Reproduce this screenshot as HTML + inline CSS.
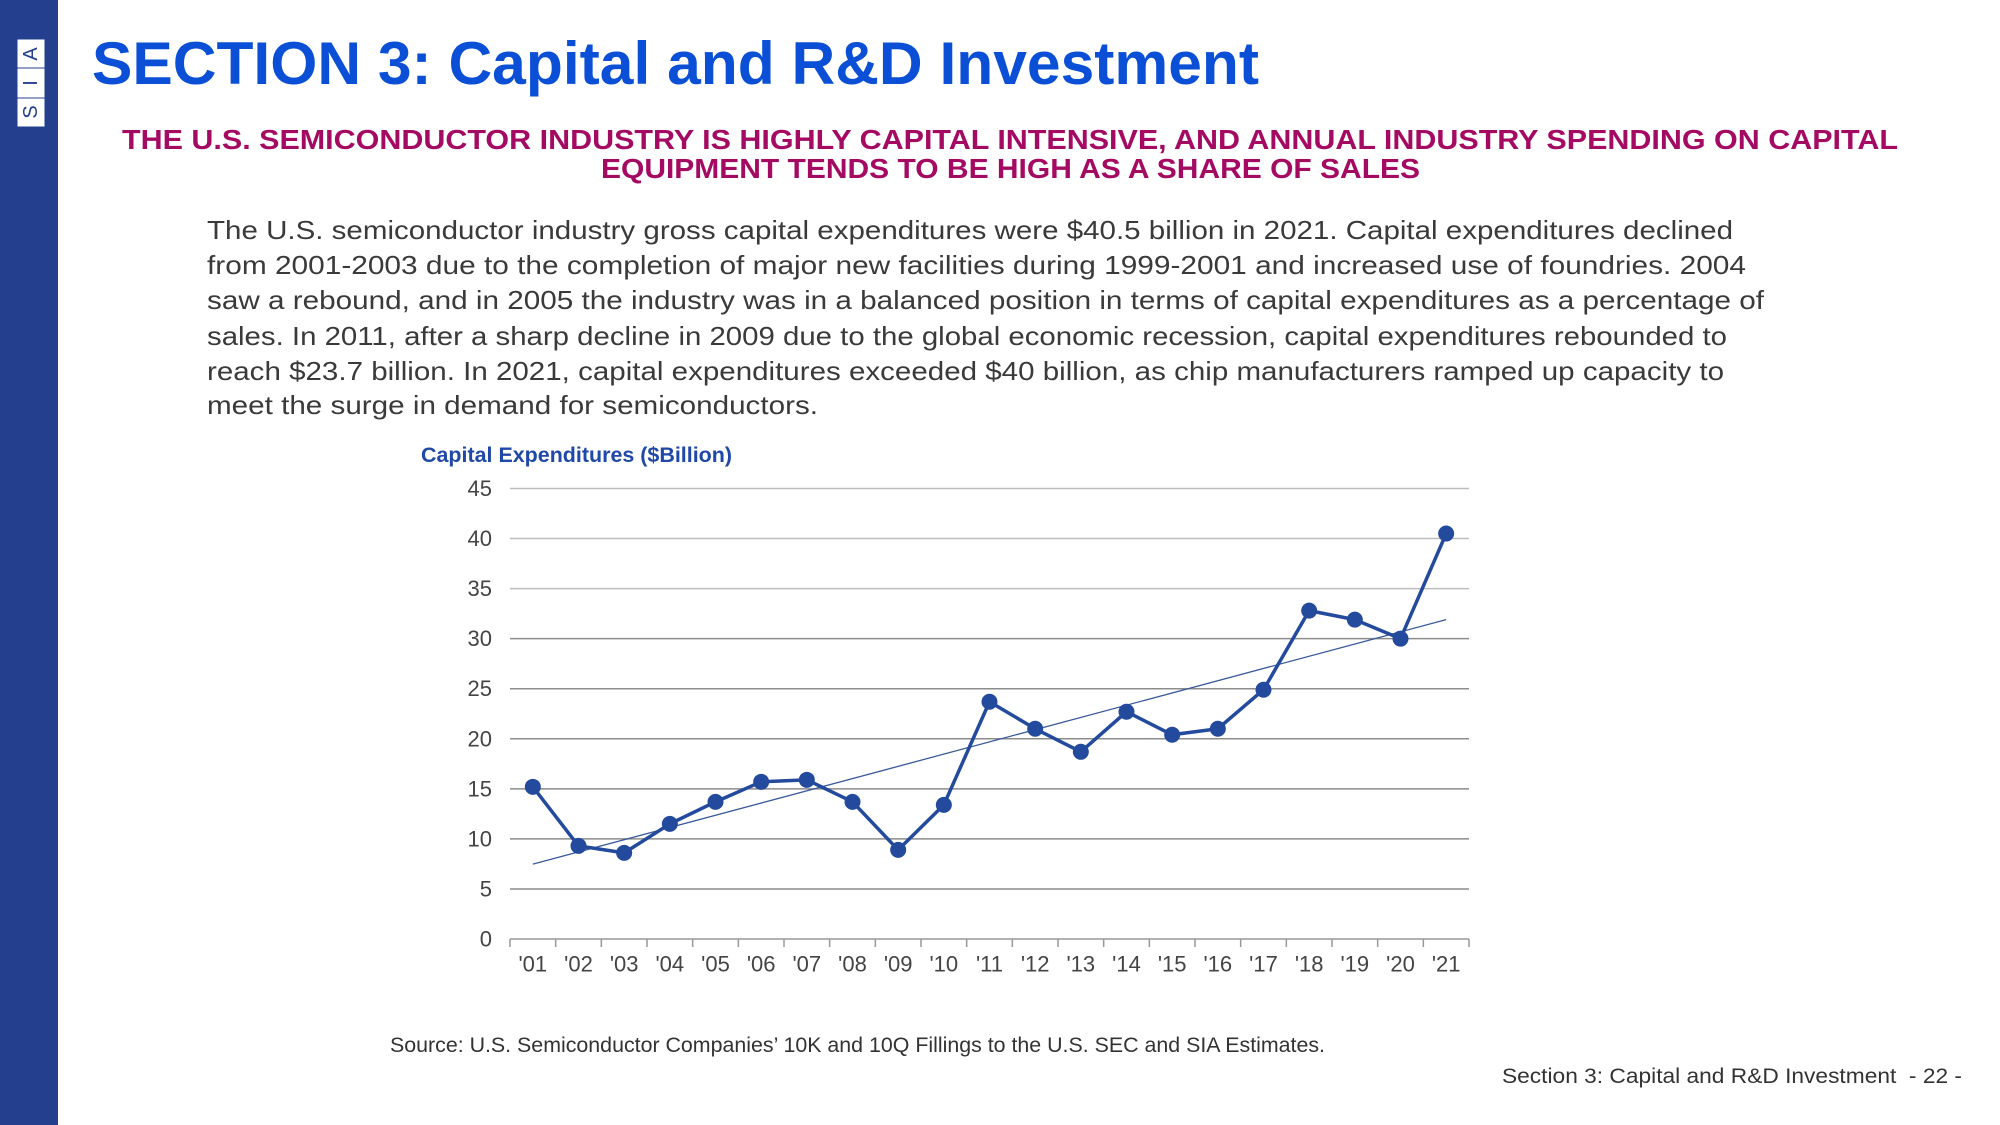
<!DOCTYPE html>
<html><head><meta charset="utf-8"><style>
html,body{margin:0;padding:0;background:#fff;width:2000px;height:1125px;overflow:hidden}
svg{display:block}
text{font-family:"Liberation Sans",sans-serif}
</style></head><body>
<svg id="page" width="2000" height="1125" viewBox="0 0 2000 1125">
  <rect x="0" y="0" width="58" height="1125" fill="#253f8f"/>
  <g>
    <rect x="17" y="39" width="28" height="88" fill="#fff" stroke="#253f8f" stroke-width="1"/>
    <line x1="17" y1="68" x2="45" y2="68" stroke="#253f8f" stroke-width="1"/>
    <line x1="17" y1="98" x2="45" y2="98" stroke="#253f8f" stroke-width="1"/>
    <text transform="translate(31,54) rotate(-90)" text-anchor="middle" dominant-baseline="central" font-size="20" fill="#253f8f">A</text>
    <text transform="translate(31,83) rotate(-90)" text-anchor="middle" dominant-baseline="central" font-size="20" fill="#253f8f">I</text>
    <text transform="translate(31,112) rotate(-90)" text-anchor="middle" dominant-baseline="central" font-size="20" fill="#253f8f">S</text>
  </g>
  <text x="92" y="84" font-size="60" font-weight="bold" fill="#0a4fd6" textLength="1167" lengthAdjust="spacingAndGlyphs">SECTION 3: Capital and R&amp;D Investment</text>
  <g fill="#a50a62" font-size="28" font-weight="bold">
    <text x="122" y="149" textLength="1776" lengthAdjust="spacingAndGlyphs">THE U.S. SEMICONDUCTOR INDUSTRY IS HIGHLY CAPITAL INTENSIVE, AND ANNUAL INDUSTRY SPENDING ON CAPITAL</text>
    <text x="601" y="178" textLength="819" lengthAdjust="spacingAndGlyphs">EQUIPMENT TENDS TO BE HIGH AS A SHARE OF SALES</text>
  </g>
  <g fill="#3a3a3a" font-size="26">
    <text x="207" y="239" textLength="1526" lengthAdjust="spacingAndGlyphs">The U.S. semiconductor industry gross capital expenditures were $40.5 billion in 2021. Capital expenditures declined</text>
    <text x="207" y="274" textLength="1539" lengthAdjust="spacingAndGlyphs">from 2001-2003 due to the completion of major new facilities during 1999-2001 and increased use of foundries. 2004</text>
    <text x="207" y="309" textLength="1557" lengthAdjust="spacingAndGlyphs">saw a rebound, and in 2005 the industry was in a balanced position in terms of capital expenditures as a percentage of</text>
    <text x="207" y="345" textLength="1520" lengthAdjust="spacingAndGlyphs">sales. In 2011, after a sharp decline in 2009 due to the global economic recession, capital expenditures rebounded to</text>
    <text x="207" y="380" textLength="1517" lengthAdjust="spacingAndGlyphs">reach $23.7 billion. In 2021, capital expenditures exceeded $40 billion, as chip manufacturers ramped up capacity to</text>
    <text x="207" y="414" textLength="611" lengthAdjust="spacingAndGlyphs">meet the surge in demand for semiconductors.</text>
  </g>
  <text x="421" y="462" font-size="21" font-weight="bold" fill="#1f48a8" textLength="311" lengthAdjust="spacingAndGlyphs">Capital Expenditures ($Billion)</text>
  <g id="chart"></g>
  <text x="390" y="1052" font-size="21" fill="#333" textLength="935" lengthAdjust="spacingAndGlyphs">Source: U.S. Semiconductor Companies’ 10K and 10Q Fillings to the U.S. SEC and SIA Estimates.</text>
  <text x="1502" y="1083" font-size="21" fill="#333" xml:space="preserve" textLength="460" lengthAdjust="spacingAndGlyphs">Section 3: Capital and R&amp;D Investment  - 22 -</text>
</svg>
<script>
const categories = ["'01","'02","'03","'04","'05","'06","'07","'08","'09","'10","'11","'12","'13","'14","'15","'16","'17","'18","'19","'20","'21"];
const capex = [15.2,9.3,8.6,11.5,13.7,15.7,15.9,13.7,8.9,13.4,23.7,21.0,18.7,22.7,20.4,21.0,24.9,32.8,31.9,30.0,40.5];
const yTicks = [0,5,10,15,20,25,30,35,40,45];

const NS = "http://www.w3.org/2000/svg";
const g = document.getElementById('chart');
const L = 510, R = 1469, T = 488.5, B = 939, yMax = 45;
const band = (R - L) / categories.length;
function x(i){ return L + band * (i + 0.5); }
function y(v){ return B - (v / yMax) * (B - T); }
function mk(tag, attrs){ const e = document.createElementNS(NS, tag); for (const k in attrs) e.setAttribute(k, attrs[k]); g.appendChild(e); return e; }

yTicks.forEach(t => {
  if (t > 0) {
    const ln = mk('line', {x1: L, x2: R, y1: y(t), y2: y(t), stroke: t >= 35 ? '#bdbdbd' : '#8c8c8c', 'stroke-width': 1.5});
    
    
  }
  const tx = mk('text', {x: 492, y: y(t), 'text-anchor': 'end', 'dominant-baseline': 'central', 'font-size': 22, fill: '#444'});
  tx.textContent = t;
  
  
});
const ax = mk('line', {x1: L, x2: R, y1: B, y2: B, stroke: '#999', 'stroke-width': 1.5});


for (let i = 0; i <= categories.length; i++) {
  const tk = mk('line', {x1: L + band * i, x2: L + band * i, y1: B, y2: B + 8, stroke: '#999', 'stroke-width': 1.5});
  
  
}
categories.forEach((c, i) => {
  const tx = mk('text', {x: x(i), y: 964, 'text-anchor': 'middle', 'dominant-baseline': 'central', 'font-size': 22, fill: '#444'});
  tx.textContent = c;
  
  
});

const n = capex.length;
let sx = 0, sy = 0, sxy = 0, sxx = 0;
capex.forEach((v, i) => { sx += i; sy += v; sxy += i * v; sxx += i * i; });
const slope = (n * sxy - sx * sy) / (n * sxx - sx * sx);
const icpt = (sy - slope * sx) / n;
const tr = mk('line', {x1: x(0), y1: y(icpt), x2: x(n - 1), y2: y(icpt + slope * (n - 1)), stroke: '#3a5a9a', 'stroke-width': 1.3});



const pl = mk('polyline', {points: capex.map((v, i) => x(i) + ',' + y(v)).join(' '), fill: 'none', stroke: '#234a9c', 'stroke-width': 3.5, 'stroke-linejoin': 'round'});


capex.forEach((v, i) => {
  const c = mk('circle', {cx: x(i), cy: y(v), r: 8, fill: '#234a9c'});
  
  
});
</script>
</body></html>
